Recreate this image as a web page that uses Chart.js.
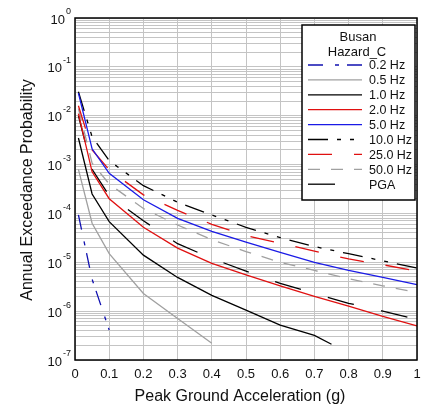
<!DOCTYPE html>
<html>
<head>
<meta charset="utf-8">
<script src="https://cdn.jsdelivr.net/npm/chart.js@4/dist/chart.umd.min.js"></script>
<style>
  html, body { margin: 0; padding: 0; background: #fff; }
  #chart { display: block; }
</style>
</head>
<body>
<canvas id="chart" width="433" height="409"></canvas>
<script>
// acceleration points (g)
const accel = [0.01, 0.05, 0.1, 0.2, 0.3, 0.4, 0.5, 0.6, 0.7, 0.8, 0.9, 1.0];
const accel1Hz = [0.01, 0.05, 0.1, 0.2, 0.3, 0.4, 0.5, 0.6, 0.7, 0.75];

// annual exceedance probability per spectral period
const hz02 = [9.3e-5, 4.5e-6, 4.1e-7];
const hz05 = [8.0e-4, 6.3e-5, 1.5e-5, 2.3e-6, 7.1e-7, 2.2e-7];
const hz1 = [3.5e-3, 2.5e-4, 6.8e-5, 1.4e-5, 4.9e-6, 2.1e-6, 1.05e-6, 5.2e-7, 3.2e-7, 2.1e-7];
const hz2 = [1.1e-2, 7.1e-4, 2.0e-4, 5.2e-5, 1.95e-5, 9.5e-6, 5.5e-6, 3.3e-6, 2.0e-6, 1.26e-6, 7.8e-7, 5.0e-7];
const hz5 = [2.9e-2, 2.1e-3, 6.6e-4, 1.9e-4, 7.9e-5, 4.3e-5, 2.6e-5, 1.6e-5, 1.0e-5, 6.8e-6, 4.9e-6, 3.5e-6];
const hz10 = [3.1e-2, 3.7e-3, 1.2e-3, 3.7e-4, 1.7e-4, 9.3e-5, 5.2e-5, 3.2e-5, 2.1e-5, 1.5e-5, 1.07e-5, 7.6e-6];
const hz25 = [1.6e-2, 2.0e-3, 7.8e-4, 2.4e-4, 1.15e-4, 6.0e-5, 3.5e-5, 2.45e-5, 1.7e-5, 1.17e-5, 8.9e-6, 6.6e-6];
const hz50 = [1.4e-2, 1.07e-3, 4.0e-4, 1.26e-4, 5.8e-5, 2.9e-5, 1.66e-5, 1.0e-5, 6.8e-6, 4.6e-6, 3.3e-6, 2.4e-6];
const pga = [1.0e-2, 8.0e-4, 2.3e-4, 7.1e-5, 2.4e-5, 1.2e-5, 6.6e-6, 3.7e-6, 2.3e-6, 1.45e-6, 1.0e-6, 6.8e-7];

const xTicks = [0, 0.1, 0.2, 0.3, 0.4, 0.5, 0.6, 0.7, 0.8, 0.9, 1];
const xTickLabels = ['0', '0.1', '0.2', '0.3', '0.4', '0.5', '0.6', '0.7', '0.8', '0.9', '1'];
const yExponents = [0, -1, -2, -3, -4, -5, -6, -7];
const legendTitle = ['Busan', 'Hazard_C'];

const FONT = '"Liberation Sans", Arial, sans-serif';

function pts(xs, ys) {
  return ys.map((y, i) => ({ x: xs[i], y: y }));
}

function series(label, xs, ys, color, dash) {
  return {
    label: label,
    data: pts(xs, ys),
    borderColor: color,
    borderWidth: 1.3,
    borderDash: dash,
    showLine: true,
    pointRadius: 0,
    tension: 0,
    fill: false
  };
}

const datasets = [
  series('0.2 Hz', accel, hz02, '#1010b0', [15, 12, 4, 8]),
  series('0.5 Hz', accel, hz05, '#a0a0a0', []),
  series('1.0 Hz', accel1Hz, hz1, '#000000', []),
  series('2.0 Hz', accel, hz2, '#e01010', []),
  series('5.0 Hz', accel, hz5, '#1a1ae6', []),
  series('10.0 Hz', accel, hz10, '#000000', [20, 9, 4, 9, 4, 9]),
  series('25.0 Hz', accel, hz25, '#e01010', [24, 22]),
  series('50.0 Hz', accel, hz50, '#a0a0a0', [12, 11]),
  series('PGA', accel, pga, '#000000', [27, 28])
];

// frame, tick labels, titles and the boxed legend
const decor = {
  id: 'decor',
  afterDraw(chart) {
    const ctx = chart.ctx;
    const a = chart.chartArea;
    const xs = chart.scales.x;
    const ys = chart.scales.y;
    ctx.save();

    ctx.strokeStyle = '#000';
    ctx.lineWidth = 1.5;
    ctx.setLineDash([]);
    ctx.strokeRect(a.left, a.top, a.right - a.left, a.bottom - a.top);

    ctx.fillStyle = '#111';
    ctx.font = '13px ' + FONT;
    ctx.textAlign = 'center';
    ctx.textBaseline = 'middle';
    xTicks.forEach((v, i) => {
      ctx.fillText(xTickLabels[i], xs.getPixelForValue(v), a.bottom + 14);
    });

    yExponents.forEach((e) => {
      const py = ys.getPixelForValue(Math.pow(10, e));
      const sup = String(e);
      ctx.font = '9px ' + FONT;
      const sw = ctx.measureText(sup).width;
      ctx.textAlign = 'left';
      ctx.textBaseline = 'middle';
      ctx.fillText(sup, a.left - 4 - sw, py - 6);
      ctx.font = '13px ' + FONT;
      ctx.textAlign = 'right';
      ctx.fillText('10', a.left - 5 - sw, py + 2);
    });

    ctx.font = '16px ' + FONT;
    ctx.textAlign = 'center';
    ctx.fillText('Peak Ground Acceleration (g)', 240, 397);
    ctx.save();
    ctx.translate(28, (a.top + a.bottom) / 2 + 1);
    ctx.rotate(-Math.PI / 2);
    ctx.fillText('Annual Exceedance Probability', 0, 0);
    ctx.restore();

    // legend box
    const bx = 302, by = 25, bw = 113, bh = 175;
    ctx.fillStyle = '#fff';
    ctx.fillRect(bx, by, bw, bh);
    ctx.strokeStyle = '#000';
    ctx.lineWidth = 1.5;
    ctx.strokeRect(bx, by, bw, bh);

    ctx.fillStyle = '#111';
    ctx.font = '13px ' + FONT;
    ctx.textAlign = 'center';
    ctx.fillText(legendTitle[0], 358, 37);
    ctx.fillText(legendTitle[1], 357, 52);

    ctx.font = '12.5px ' + FONT;
    ctx.textAlign = 'left';
    chart.data.datasets.forEach((ds, i) => {
      const ly = 65 + i * 14.9;
      ctx.strokeStyle = ds.borderColor;
      ctx.lineWidth = 1.3;
      ctx.setLineDash(ds.borderDash || []);
      ctx.beginPath();
      ctx.moveTo(308, ly);
      ctx.lineTo(362, ly);
      ctx.stroke();
      ctx.setLineDash([]);
      ctx.fillStyle = '#111';
      ctx.fillText(ds.label, 369, ly + 1);
    });

    ctx.restore();
  }
};

new Chart(document.getElementById('chart').getContext('2d'), {
  type: 'scatter',
  data: { datasets: datasets },
  options: {
    responsive: false,
    animation: false,
    layout: { padding: { left: 75, top: 18, right: 16, bottom: 49 } },
    plugins: { legend: { display: false }, tooltip: { enabled: false } },
    scales: {
      x: {
        type: 'linear',
        min: 0,
        max: 1,
        afterBuildTicks: (scale) => { scale.ticks = xTicks.map(v => ({ value: v })); },
        ticks: { display: false },
        grid: { color: '#c4c4c4', lineWidth: 1, drawTicks: false },
        border: { display: false }
      },
      y: {
        type: 'logarithmic',
        min: 1e-7,
        max: 1,
        afterBuildTicks: (scale) => {
          const t = [];
          yExponents.slice(1).forEach((e) => {
            for (let m = 1; m <= 9; m++) t.push({ value: m * Math.pow(10, e) });
          });
          t.push({ value: 1 });
          scale.ticks = t;
        },
        ticks: { display: false },
        grid: { color: '#c4c4c4', lineWidth: 1, drawTicks: false },
        border: { display: false }
      }
    }
  },
  plugins: [decor]
});
</script>
</body>
</html>
